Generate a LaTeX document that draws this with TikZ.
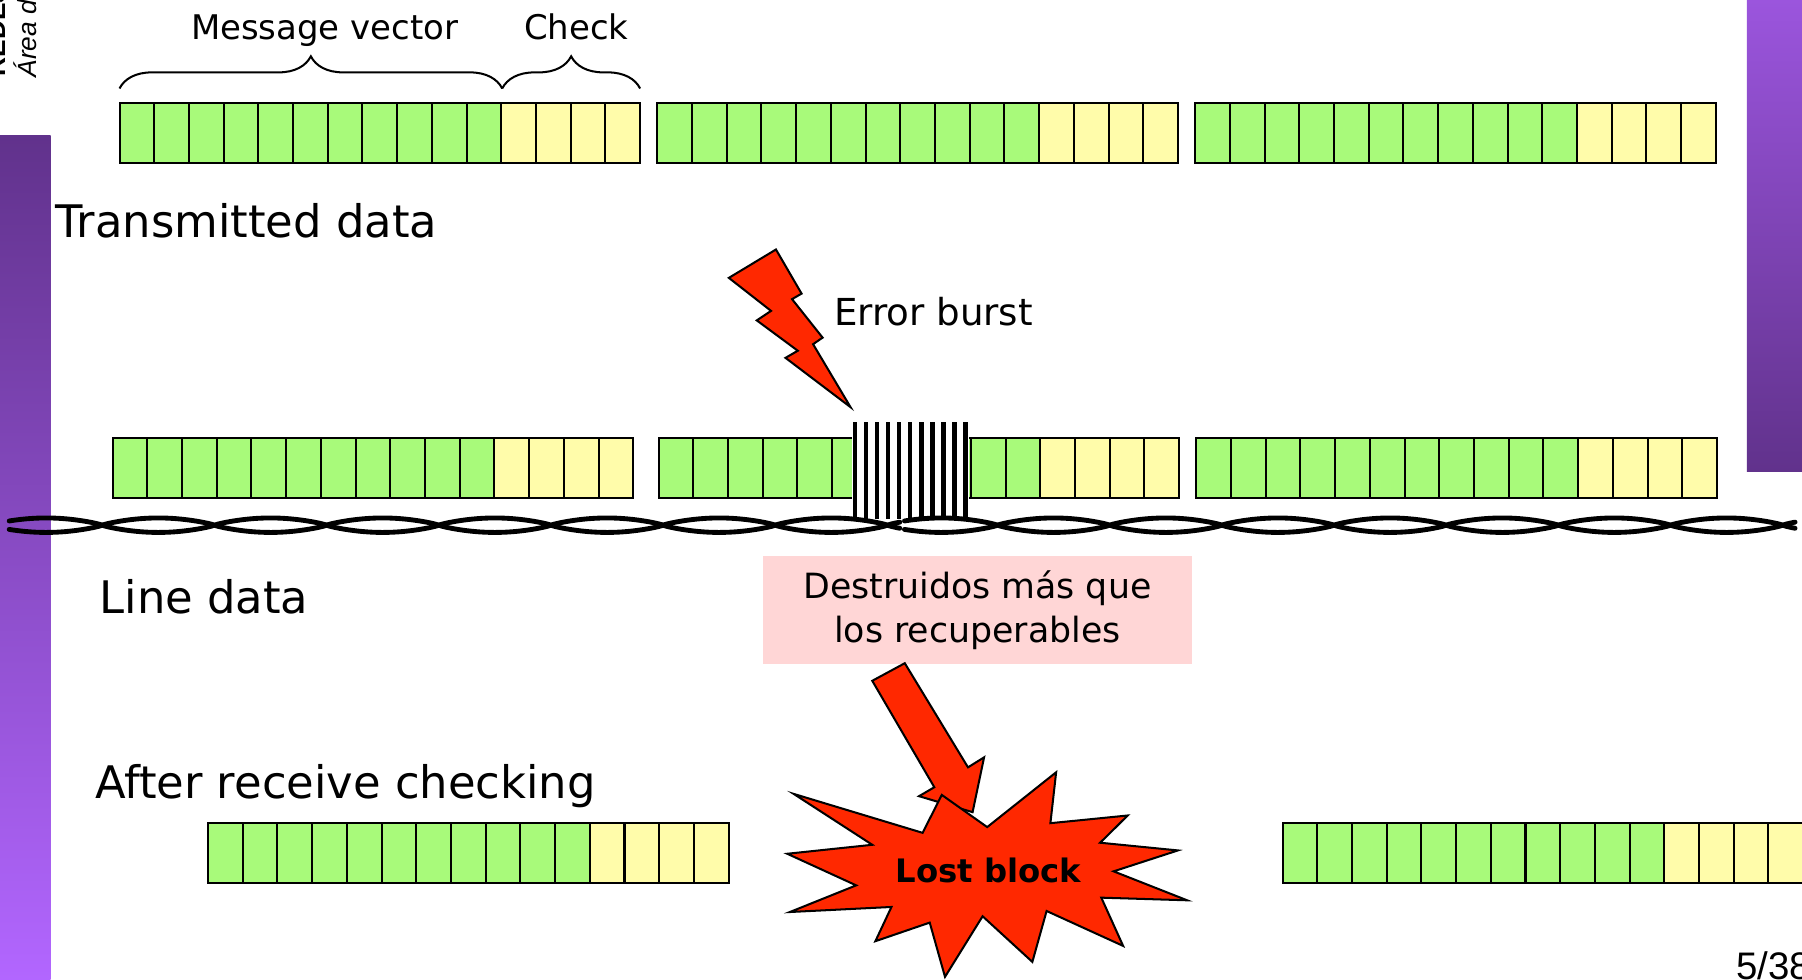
\documentclass[tikz,border=0pt]{standalone}
\usepackage{fontspec}
\setmainfont{DejaVu Sans}
\newfontfamily\headfont{Liberation Sans}
\usetikzlibrary{decorations.pathreplacing}
\definecolor{msggreen}{RGB}{168,250,122}
\definecolor{chkyellow}{RGB}{255,252,170}
\definecolor{burstred}{RGB}{255,40,0}
\definecolor{notepink}{RGB}{255,214,214}
\definecolor{darkpurple}{RGB}{97,50,140}
\definecolor{lightpurple}{RGB}{178,102,255}
\definecolor{midpurple}{RGB}{155,85,221}
\tikzset{
  cell/.style={draw=black, line width=0.5pt},
  bolt/.style={draw=black, fill=burstred, line width=0.5pt},
  wire/.style={line width=1.2pt, line cap=round},
  curly/.style={decorate, decoration={brace, amplitude=0.28cm}, line width=0.5pt},
  tag/.style={font=\fontsize{8.4}{10}\selectfont, inner sep=0pt},
  rowlabel/.style={font=\fontsize{11.1}{13}\selectfont, inner sep=0pt}
}
% one code word: 11 message cells, 4 check cells
\newcommand{\codeword}[2]{%
  \foreach \i in {0,...,10}
    \draw[cell, fill=msggreen] ({#1+\i*30.2},#2) rectangle ++(30.2,52);
  \foreach \i in {11,...,14}
    \draw[cell, fill=chkyellow] ({#1+\i*30.2},#2) rectangle ++(30.2,52);
}

\begin{document}
\begin{tikzpicture}[x=0.01cm, y=-0.01cm]
\useasboundingbox (0,0) rectangle (1568,852);
\clip (0,0) rectangle (1568,852);

% --- slide frame ---
\shade[top color=darkpurple, bottom color=lightpurple] (0,118) rectangle (44,852);
\shade[top color=midpurple, bottom color=darkpurple] (1520,0) rectangle (1568,410);
\node (header) [rotate=90, anchor=base west, inner sep=0pt, font=\headfont\bfseries\fontsize{6.5}{7}\selectfont] at (4.4,67) {REDES};
\node (area) [rotate=90, anchor=base west, inner sep=0pt, font=\headfont\itshape\fontsize{6.5}{7}\selectfont] at (32,68) {Área de};
\node (page) [anchor=base west, inner sep=0pt, font=\headfont\fontsize{9.5}{11}\selectfont] at (1510,852) {5/38};

% --- transmitted data ---
\draw[curly] (104,77) -- (437,77);
\draw[curly] (437,77) -- (557,77);
\node (message) [tag, anchor=base] at (282.5,34) {Message vector};
\node (check) [tag, anchor=base] at (501.5,34) {Check};
\codeword{104}{90}
\codeword{572}{90}
\codeword{1040}{90}
\node (transmitted) [rowlabel, anchor=base west] at (48,207) {Transmitted data};

% --- line data ---
\codeword{98}{381}
\codeword{573}{381}
\codeword{1041}{381}
\fill[white] (741,367) rectangle (843,452);
\foreach \k in {0,...,10}
  \fill[black] ({742+\k*9.6},367) rectangle ++(4,85);
\foreach \s/\e in {8/783, 787/1562}{
  \draw[wire] plot[domain=\s:\e, samples=300]
    (\x, {457+6.3*sin((\x-\s-81)*1.8443)/((abs(sin((\x-\s-81)*1.8443))+0.001)^0.2)});
  \draw[wire] plot[domain=\s:\e, samples=300]
    (\x, {457-6.3*sin((\x-\s-81)*1.8443)/((abs(sin((\x-\s-81)*1.8443))+0.001)^0.2)});
}
\draw[bolt] (675.2,217.1) -- (697.5,255.5) -- (689.2,260.3) -- (715.8,293.8)
  -- (707.5,299.5) -- (740.1,354.3) -- (683.5,311.4) -- (694.2,305.2)
  -- (658.5,278.8) -- (670.9,270.5) -- (634.2,241.8) -- cycle;
\node (burst) [anchor=base west, inner sep=0pt, font=\fontsize{9.2}{11}\selectfont] at (725,283) {Error burst};
\node (linedata) [rowlabel, anchor=base west] at (86,534) {Line data};
\node (destroyed) [fill=notepink, minimum width=3.73cm, minimum height=0.94cm, align=center, font=\fontsize{8.6}{10.7}\selectfont] at (850.5,531) {Destruidos más que\\los recuperables};

% --- after receive checking ---
\node (after) [rowlabel, anchor=base west] at (82,695) {After receive checking};
\codeword{181}{716}
\codeword{1116}{716}
\draw[bolt] (759,592.4) -- (787.3,577.1) -- (842.3,667.7) -- (856.3,659)
  -- (846.3,706.7) -- (799.7,692.8) -- (813,685) -- cycle;
\draw[bolt] (690.6,690.8) -- (802.8,724.7) -- (819.5,691.7) -- (859,719.7)
  -- (919,672) -- (914,716.3) -- (981.3,709.6) -- (957.3,733.3)
  -- (1025,740) -- (969,758.2) -- (1033,783.4) -- (958.3,781.1)
  -- (977.3,823.1) -- (910.7,792.7) -- (898.3,837) -- (855,797.3)
  -- (822.3,850) -- (809,802.8) -- (761.7,819) -- (775.7,789.2)
  -- (687.3,793.6) -- (745,770.4) -- (685,742.9) -- (759,735.1) -- cycle;
\node (lost) [anchor=base, inner sep=0pt, font=\bfseries\fontsize{8}{10}\selectfont] at (860,768) {Lost block};

\end{tikzpicture}
\end{document}
